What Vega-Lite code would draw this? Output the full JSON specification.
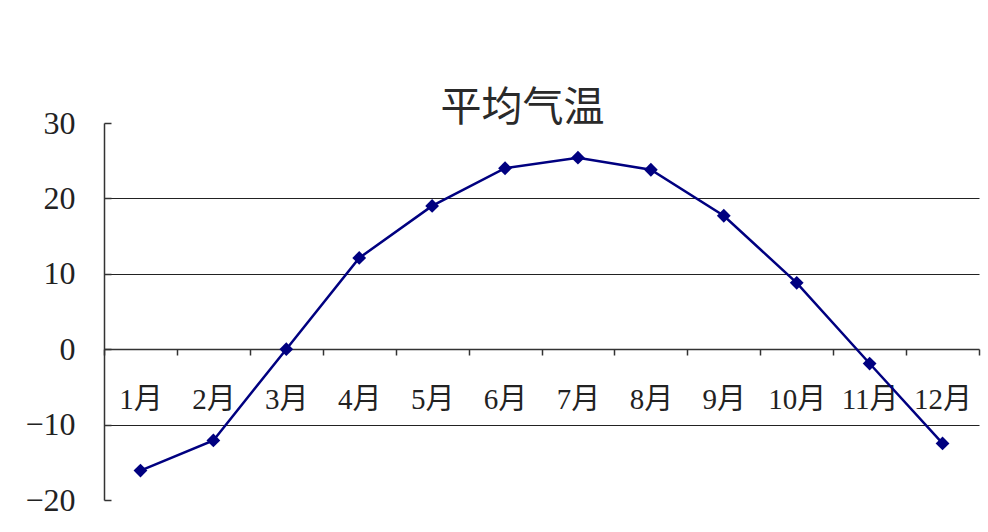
{
  "$schema": "https://vega.github.io/schema/vega-lite/v6.json",
  "autosize": "none",
  "width": 875,
  "height": 377,
  "padding": {"left": 104, "top": 123, "right": 9, "bottom": 32},
  "background": "white",
  "title": {
    "text": "平均气温",
    "font": "Liberation Serif, Noto Sans CJK SC",
    "fontSize": 41,
    "fontWeight": "normal",
    "color": "#2a2a2a",
    "anchor": "middle",
    "baseline": "bottom",
    "offset": -64,
    "dx": -19
  },
  "config": {
    "view": {"stroke": null},
    "axis": {
      "labelFont": "Liberation Serif, Noto Sans CJK SC",
      "labelColor": "#222222",
      "domainColor": "#333333",
      "tickColor": "#333333"
    }
  },
  "data": {
    "values": [
      {"month": "1月", "temp": -16.1},
      {"month": "2月", "temp": -12.1},
      {"month": "3月", "temp": 0.0},
      {"month": "4月", "temp": 12.1},
      {"month": "5月", "temp": 19.0},
      {"month": "6月", "temp": 24.0},
      {"month": "7月", "temp": 25.4},
      {"month": "8月", "temp": 23.8},
      {"month": "9月", "temp": 17.7},
      {"month": "10月", "temp": 8.8},
      {"month": "11月", "temp": -1.9},
      {"month": "12月", "temp": -12.5}
    ]
  },
  "encoding": {
    "x": {
      "field": "month",
      "type": "ordinal",
      "sort": null,
      "scale": {"paddingInner": 0, "paddingOuter": 0},
      "axis": {
        "title": null,
        "orient": "bottom",
        "offset": -151,
        "labelAngle": 0,
        "labelFontSize": 29,
        "labelPadding": 30,
        "tickBand": "extent",
        "tickSize": 6,
        "tickWidth": 1.5,
        "domainWidth": 1.5,
        "grid": false
      }
    },
    "y": {
      "field": "temp",
      "type": "quantitative",
      "scale": {"domain": [-20, 30], "nice": false},
      "axis": {
        "title": null,
        "values": [-20, -10, 0, 10, 20, 30],
        "labelFontSize": 32,
        "labelPadding": 36,
        "tickSize": -7,
        "tickWidth": 1.5,
        "domainWidth": 1.5,
        "grid": true,
        "gridColor": "#222222",
        "gridWidth": 1.2,
        "gridOpacity": {"condition": {"test": "datum.value == 30 || datum.value == -20 || datum.value == 0", "value": 0}, "value": 1}
      }
    }
  },
  "layer": [
    {"mark": {"type": "line", "color": "#000080", "strokeWidth": 2.5}},
    {"mark": {"type": "point", "shape": "diamond", "filled": true, "color": "#000080", "opacity": 1, "size": 190}}
  ]
}
